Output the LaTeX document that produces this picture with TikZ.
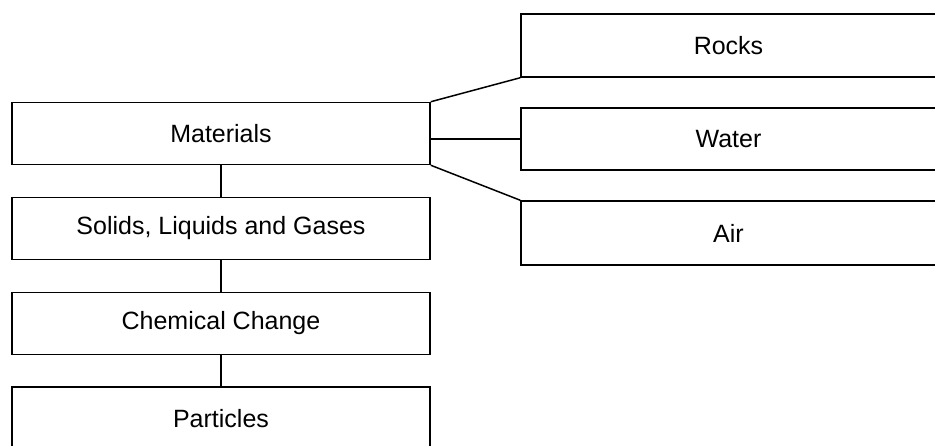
\documentclass[tikz,border=0pt]{standalone}
\usepackage{fontspec}
\setmainfont{Liberation Sans}
\begin{document}
\begin{tikzpicture}[x=1pt,y=-1pt,
  topicbox/.style={draw, rectangle, line width=1.5pt, inner sep=0pt,
    minimum width=418pt, minimum height=62pt,
    font=\fontsize{25}{30}\selectfont},
  sidebox/.style={topicbox, minimum width=415pt, minimum height=63pt},
  link/.style={line width=1.5pt}]
\clip (0,0) rectangle (935,446);
\fill[white] (0,0) rectangle (935,446);

% left column
\node[topicbox] (mat) at (221,133.5) {Materials};
\node[topicbox] (sol) at (221,228.5) {Solids, Liquids and Gases};
\node[topicbox] (chem) at (221,323.5) {Chemical Change};
\node[topicbox, minimum height=64pt] (part) at (221,419) {Particles};

% right column (runs off the right edge)
\node[sidebox] (rock) at (728.5,45.5) {Rocks};
\node[sidebox, minimum height=62pt] (wat) at (728.5,139) {Water};
\node[sidebox, minimum height=64pt] (air) at (728.5,233) {Air};

% vertical chain
\draw[link] (mat.south) -- (sol.north);
\draw[link] (sol.south) -- (chem.north);
\draw[link] (chem.south) -- (part.north);

% fan to the right
\draw[link] (mat.north east) -- (rock.south west);
\draw[link] (wat.west -| mat.east) -- (wat.west);
\draw[link] (mat.south east) -- (air.north west);
\end{tikzpicture}
\end{document}
